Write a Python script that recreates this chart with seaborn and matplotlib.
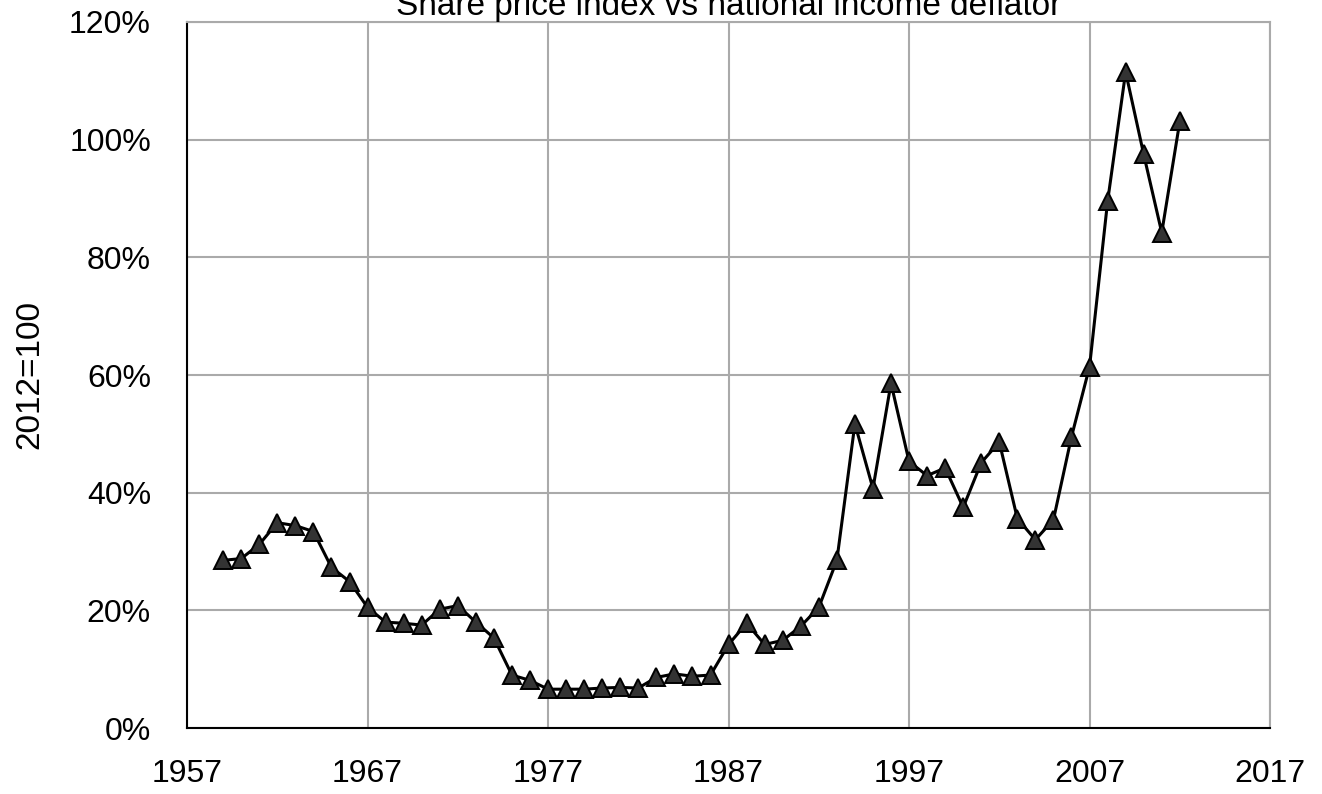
import matplotlib
matplotlib.use("Agg")
import matplotlib.pyplot as plt
from matplotlib.ticker import PercentFormatter
import pandas as pd
import seaborn as sns

# share price index deflated, 2012=100
years = list(range(1959, 2013))
index_pct = [28.5, 28.8, 31.2, 34.9, 34.4, 33.4, 27.3, 24.9, 20.5, 18.0,
             17.8, 17.5, 20.2, 20.8, 18.0, 15.3, 9.0, 8.1, 6.6, 6.6,
             6.6, 6.8, 6.9, 6.8, 8.6, 9.2, 8.8, 9.0, 14.2, 17.8,
             14.2, 14.9, 17.3, 20.5, 28.5, 51.7, 40.7, 58.6, 45.3, 42.9,
             44.2, 37.5, 45.1, 48.6, 35.6, 32.0, 35.4, 49.5, 61.4, 89.5,
             111.5, 97.5, 84.2, 103.1]
x_ticks = [1957, 1967, 1977, 1987, 1997, 2007, 2017]
y_ticks = [0, 20, 40, 60, 80, 100, 120]

df = pd.DataFrame({"year": years, "value": index_pct})

sns.set_style("white")
plt.rcParams["font.family"] = ["Liberation Sans", "DejaVu Sans"]
plt.rcParams["text.color"] = "black"
plt.rcParams["xtick.color"] = "black"
plt.rcParams["ytick.color"] = "black"

fig = plt.figure(figsize=(13.22, 7.94), dpi=100)
ax = fig.add_axes([0.1415, 0.0831, 0.8192, 0.8892])

sns.lineplot(data=df, x="year", y="value", ax=ax, color="black", linewidth=2.2,
             marker="^", markersize=13, markerfacecolor="#333333",
             markeredgecolor="black", markeredgewidth=1.4)

ax.set_xlim(1957, 2017)
ax.set_ylim(0, 120)
ax.set_xticks(x_ticks)
ax.set_yticks(y_ticks)
ax.yaxis.set_major_formatter(PercentFormatter(decimals=0))
ax.grid(True, color="#aaaaaa", linewidth=1.5)
ax.set_axisbelow(True)
for side in ["top", "right"]:
    ax.spines[side].set_color("#aaaaaa")
    ax.spines[side].set_linewidth(1.5)
for side in ["left", "bottom"]:
    ax.spines[side].set_color("black")
    ax.spines[side].set_linewidth(1.5)
ax.tick_params(axis="both", labelsize=23, length=0, labelcolor="black")
ax.tick_params(axis="x", pad=22)
ax.tick_params(axis="y", pad=26)
ax.set_xlabel("")
ax.set_ylabel("")

# axis title placed by hand, the reference has it close to the left edge
fig.text(0.0227, 0.528, "2012=100", rotation=90, ha="center", va="center",
         fontsize=24)
fig.text(0.551, 0.981, "Share price index vs national income deflator",
         ha="center", va="baseline", fontsize=24)

fig.savefig("out.png", dpi=100)
